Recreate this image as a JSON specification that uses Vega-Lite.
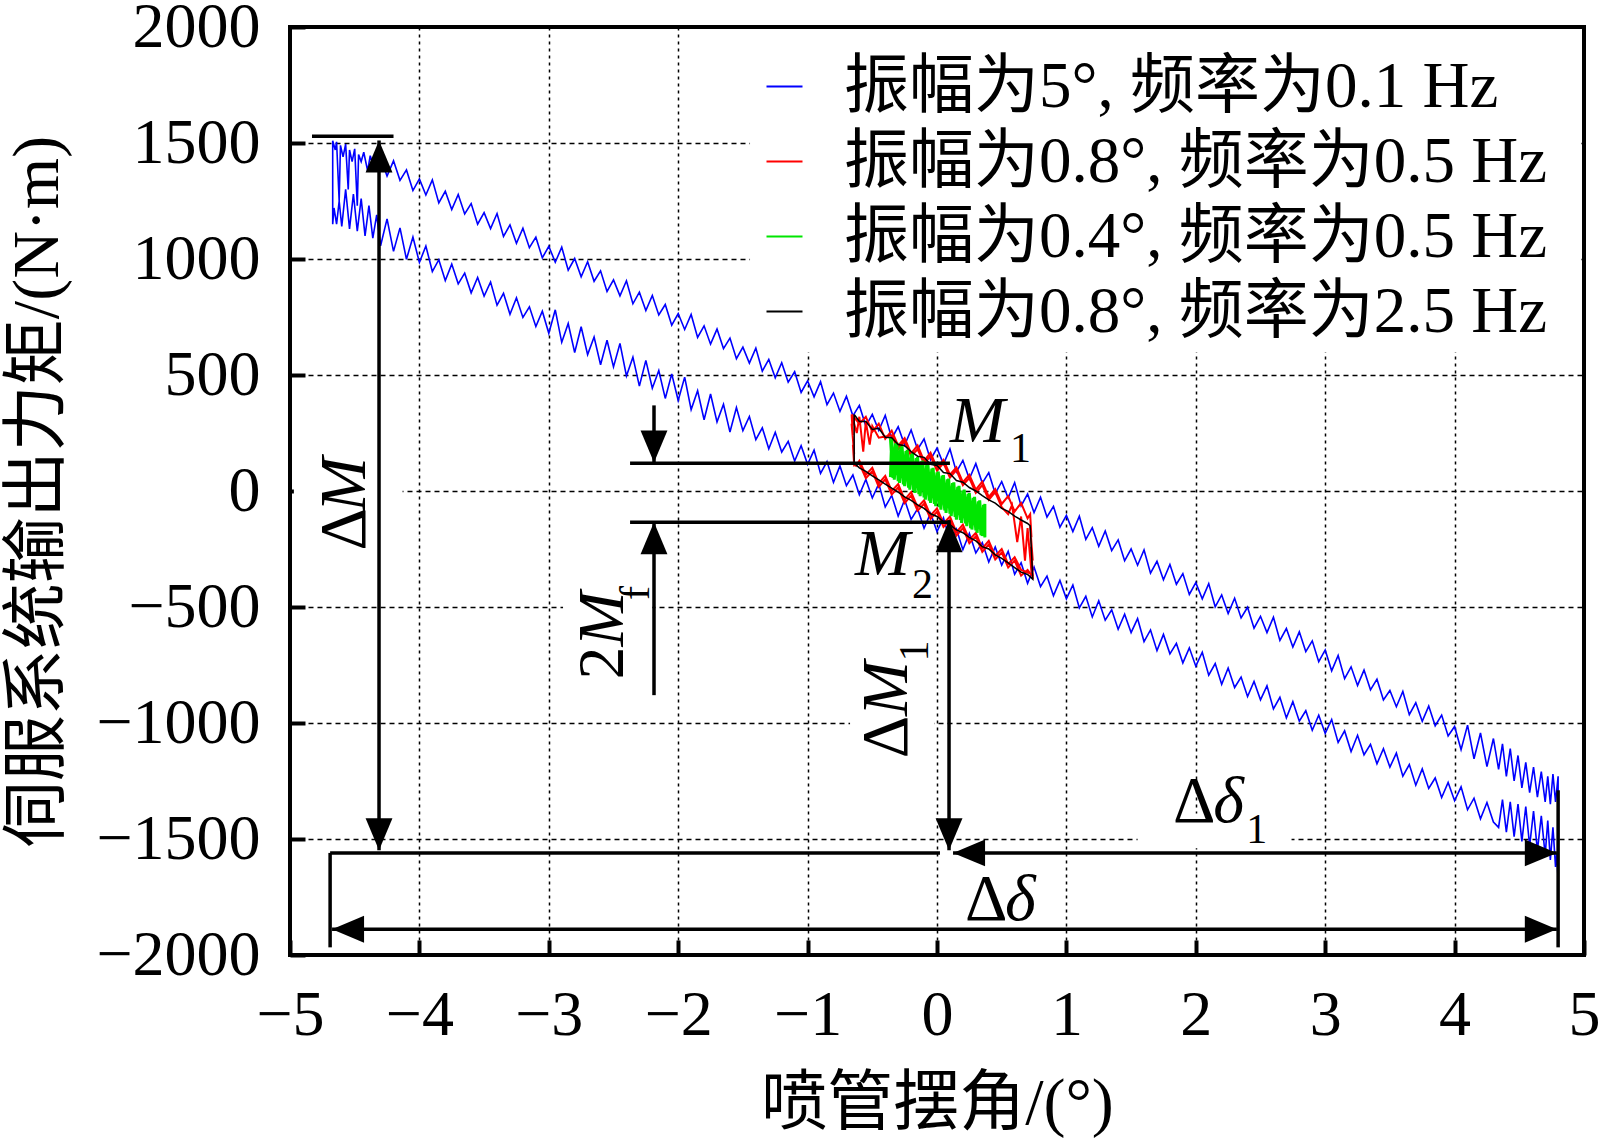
{
  "$schema": "https://vega.github.io/schema/vega-lite/v6.json",
  "width": 1294,
  "height": 928,
  "autosize": {"type": "none"},
  "padding": {"left": 290, "top": 27, "right": 16, "bottom": 184},
  "background": "white",
  "config": {
    "view": {"stroke": "black", "strokeWidth": 4},
    "font": "Liberation Serif",
    "axis": {
      "labelFont": "Liberation Serif", "labelFontSize": 64, "labelColor": "black", "labelLimit": 400,
      "titleFont": "Liberation Serif, Noto Sans CJK SC", "titleFontSize": 66, "titleFontWeight": "normal", "titleColor": "black",
      "grid": true, "gridColor": "black", "gridOpacity": 1, "gridWidth": 1.5,
      "domain": false, "ticks": true, "tickColor": "black", "tickWidth": 4, "tickSize": -15,
      "labelFlush": false, "labelOverlap": false, "labelBound": false
    }
  },
  "datasets": {
    "blue": [
      {"s":"a","x":-4.67,"y":1150},{"s":"a","x":-4.67,"y":1510},{"s":"a","x":-4.65,"y":1470},{"s":"a","x":-4.64,"y":1505},{"s":"a","x":-4.62,"y":1250},{"s":"a","x":-4.61,"y":1490},{"s":"a","x":-4.59,"y":1440},{"s":"a","x":-4.57,"y":1495},{"s":"a","x":-4.55,"y":1300},{"s":"a","x":-4.54,"y":1470},{"s":"a","x":-4.52,"y":1420},{"s":"a","x":-4.5,"y":1475},{"s":"a","x":-4.48,"y":1230},{"s":"a","x":-4.47,"y":1450},{"s":"a","x":-4.45,"y":1420},{"s":"a","x":-4.43,"y":1460},{"s":"a","x":-4.4,"y":1380},{"s":"a","x":-4.38,"y":1445},{"s":"a","x":-4.35,"y":1395},
      {"s":"a","x":-4.3,"y":1437},{"s":"a","x":-4.25,"y":1358},{"s":"a","x":-4.2,"y":1423},{"s":"a","x":-4.15,"y":1339},{"s":"a","x":-4.1,"y":1384},{"s":"a","x":-4.05,"y":1295},{"s":"a","x":-4.0,"y":1345},{"s":"a","x":-3.95,"y":1276},{"s":"a","x":-3.9,"y":1341},{"s":"a","x":-3.85,"y":1242},
      {"s":"a","x":-3.8,"y":1292},{"s":"a","x":-3.75,"y":1213},{"s":"a","x":-3.7,"y":1278},{"s":"a","x":-3.65,"y":1194},{"s":"a","x":-3.6,"y":1239},{"s":"a","x":-3.55,"y":1150},{"s":"a","x":-3.5,"y":1200},{"s":"a","x":-3.45,"y":1131},{"s":"a","x":-3.4,"y":1196},{"s":"a","x":-3.35,"y":1097},
      {"s":"a","x":-3.3,"y":1147},{"s":"a","x":-3.25,"y":1068},{"s":"a","x":-3.2,"y":1133},{"s":"a","x":-3.15,"y":1049},{"s":"a","x":-3.1,"y":1094},{"s":"a","x":-3.05,"y":1005},{"s":"a","x":-3.0,"y":1055},{"s":"a","x":-2.95,"y":986},{"s":"a","x":-2.9,"y":1051},{"s":"a","x":-2.85,"y":952},
      {"s":"a","x":-2.8,"y":1002},{"s":"a","x":-2.75,"y":923},{"s":"a","x":-2.7,"y":988},{"s":"a","x":-2.65,"y":904},{"s":"a","x":-2.6,"y":949},{"s":"a","x":-2.55,"y":860},{"s":"a","x":-2.5,"y":910},{"s":"a","x":-2.45,"y":841},{"s":"a","x":-2.4,"y":906},{"s":"a","x":-2.35,"y":807},
      {"s":"a","x":-2.3,"y":857},{"s":"a","x":-2.25,"y":778},{"s":"a","x":-2.2,"y":843},{"s":"a","x":-2.15,"y":759},{"s":"a","x":-2.1,"y":804},{"s":"a","x":-2.05,"y":715},{"s":"a","x":-2.0,"y":765},{"s":"a","x":-1.95,"y":696},{"s":"a","x":-1.9,"y":761},{"s":"a","x":-1.85,"y":662},
      {"s":"a","x":-1.8,"y":712},{"s":"a","x":-1.75,"y":633},{"s":"a","x":-1.7,"y":698},{"s":"a","x":-1.65,"y":614},{"s":"a","x":-1.6,"y":659},{"s":"a","x":-1.55,"y":570},{"s":"a","x":-1.5,"y":620},{"s":"a","x":-1.45,"y":551},{"s":"a","x":-1.4,"y":616},{"s":"a","x":-1.35,"y":517},
      {"s":"a","x":-1.3,"y":567},{"s":"a","x":-1.25,"y":488},{"s":"a","x":-1.2,"y":553},{"s":"a","x":-1.15,"y":469},{"s":"a","x":-1.1,"y":514},{"s":"a","x":-1.05,"y":425},{"s":"a","x":-1.0,"y":475},{"s":"a","x":-0.95,"y":406},{"s":"a","x":-0.9,"y":471},{"s":"a","x":-0.85,"y":372},
      {"s":"a","x":-0.8,"y":422},{"s":"a","x":-0.75,"y":343},{"s":"a","x":-0.7,"y":408},{"s":"a","x":-0.65,"y":324},{"s":"a","x":-0.6,"y":369},{"s":"a","x":-0.55,"y":280},{"s":"a","x":-0.5,"y":330},{"s":"a","x":-0.45,"y":261},{"s":"a","x":-0.4,"y":326},{"s":"a","x":-0.35,"y":227},
      {"s":"a","x":-0.3,"y":277},{"s":"a","x":-0.25,"y":198},{"s":"a","x":-0.2,"y":263},{"s":"a","x":-0.15,"y":179},{"s":"a","x":-0.1,"y":224},{"s":"a","x":-0.05,"y":135},{"s":"a","x":0.0,"y":185},{"s":"a","x":0.05,"y":116},{"s":"a","x":0.1,"y":181},{"s":"a","x":0.15,"y":82},
      {"s":"a","x":0.2,"y":132},{"s":"a","x":0.25,"y":53},{"s":"a","x":0.3,"y":118},{"s":"a","x":0.35,"y":34},{"s":"a","x":0.4,"y":79},{"s":"a","x":0.45,"y":-11},{"s":"a","x":0.5,"y":40},{"s":"a","x":0.55,"y":-30},{"s":"a","x":0.6,"y":36},{"s":"a","x":0.65,"y":-64},
      {"s":"a","x":0.7,"y":-13},{"s":"a","x":0.75,"y":-93},{"s":"a","x":0.8,"y":-27},{"s":"a","x":0.85,"y":-112},{"s":"a","x":0.9,"y":-66},{"s":"a","x":0.95,"y":-156},{"s":"a","x":1.0,"y":-105},{"s":"a","x":1.05,"y":-175},{"s":"a","x":1.1,"y":-109},{"s":"a","x":1.15,"y":-209},
      {"s":"a","x":1.2,"y":-158},{"s":"a","x":1.25,"y":-238},{"s":"a","x":1.3,"y":-172},{"s":"a","x":1.35,"y":-257},{"s":"a","x":1.4,"y":-211},{"s":"a","x":1.45,"y":-301},{"s":"a","x":1.5,"y":-250},{"s":"a","x":1.55,"y":-320},{"s":"a","x":1.6,"y":-254},{"s":"a","x":1.65,"y":-354},
      {"s":"a","x":1.7,"y":-303},{"s":"a","x":1.75,"y":-383},{"s":"a","x":1.8,"y":-317},{"s":"a","x":1.85,"y":-402},{"s":"a","x":1.9,"y":-356},{"s":"a","x":1.95,"y":-446},{"s":"a","x":2.0,"y":-395},{"s":"a","x":2.05,"y":-465},{"s":"a","x":2.1,"y":-399},{"s":"a","x":2.15,"y":-499},
      {"s":"a","x":2.2,"y":-448},{"s":"a","x":2.25,"y":-528},{"s":"a","x":2.3,"y":-462},{"s":"a","x":2.35,"y":-547},{"s":"a","x":2.4,"y":-501},{"s":"a","x":2.45,"y":-591},{"s":"a","x":2.5,"y":-540},{"s":"a","x":2.55,"y":-610},{"s":"a","x":2.6,"y":-544},{"s":"a","x":2.65,"y":-644},
      {"s":"a","x":2.7,"y":-593},{"s":"a","x":2.75,"y":-673},{"s":"a","x":2.8,"y":-607},{"s":"a","x":2.85,"y":-692},{"s":"a","x":2.9,"y":-646},{"s":"a","x":2.95,"y":-736},{"s":"a","x":3.0,"y":-685},{"s":"a","x":3.05,"y":-775},{"s":"a","x":3.1,"y":-709},{"s":"a","x":3.15,"y":-809},
      {"s":"a","x":3.2,"y":-758},{"s":"a","x":3.25,"y":-838},{"s":"a","x":3.3,"y":-772},{"s":"a","x":3.35,"y":-857},{"s":"a","x":3.4,"y":-811},{"s":"a","x":3.45,"y":-901},{"s":"a","x":3.5,"y":-860},{"s":"a","x":3.55,"y":-930},{"s":"a","x":3.6,"y":-864},{"s":"a","x":3.65,"y":-964},
      {"s":"a","x":3.7,"y":-913},{"s":"a","x":3.75,"y":-993},{"s":"a","x":3.8,"y":-927},{"s":"a","x":3.85,"y":-1012},{"s":"a","x":3.9,"y":-966},{"s":"a","x":3.95,"y":-1056},{"s":"a","x":4.0,"y":-1015},{"s":"a","x":4.05,"y":-1115},{"s":"a","x":4.1,"y":-1009},{"s":"a","x":4.15,"y":-1154},
      {"s":"a","x":4.2,"y":-1043},{"s":"a","x":4.25,"y":-1188},{"s":"a","x":4.3,"y":-1067},
      {"s":"a","x":4.34,"y":-1200},{"s":"a","x":4.37,"y":-1090},{"s":"a","x":4.4,"y":-1230},{"s":"a","x":4.43,"y":-1110},{"s":"a","x":4.46,"y":-1250},{"s":"a","x":4.49,"y":-1140},{"s":"a","x":4.52,"y":-1280},{"s":"a","x":4.55,"y":-1170},{"s":"a","x":4.58,"y":-1300},{"s":"a","x":4.61,"y":-1190},{"s":"a","x":4.64,"y":-1320},{"s":"a","x":4.67,"y":-1210},{"s":"a","x":4.7,"y":-1340},{"s":"a","x":4.72,"y":-1230},{"s":"a","x":4.74,"y":-1350},{"s":"a","x":4.76,"y":-1220},{"s":"a","x":4.78,"y":-1340},{"s":"a","x":4.8,"y":-1230},{"s":"a","x":4.8,"y":-1680},
      {"s":"a","x":4.79,"y":-1560},{"s":"a","x":4.78,"y":-1620},{"s":"a","x":4.76,"y":-1450},{"s":"a","x":4.74,"y":-1590},{"s":"a","x":4.72,"y":-1420},{"s":"a","x":4.7,"y":-1570},{"s":"a","x":4.67,"y":-1400},{"s":"a","x":4.64,"y":-1550},{"s":"a","x":4.61,"y":-1380},{"s":"a","x":4.58,"y":-1530},{"s":"a","x":4.55,"y":-1360},{"s":"a","x":4.52,"y":-1510},{"s":"a","x":4.49,"y":-1350},{"s":"a","x":4.46,"y":-1490},{"s":"a","x":4.43,"y":-1340},{"s":"a","x":4.4,"y":-1470},{"s":"a","x":4.37,"y":-1330},{"s":"a","x":4.34,"y":-1450},
      {"s":"a","x":4.3,"y":-1427},{"s":"a","x":4.25,"y":-1343},{"s":"a","x":4.2,"y":-1413},{"s":"a","x":4.15,"y":-1324},{"s":"a","x":4.1,"y":-1374},{"s":"a","x":4.05,"y":-1275},{"s":"a","x":4.0,"y":-1335},{"s":"a","x":3.95,"y":-1256},{"s":"a","x":3.9,"y":-1321},{"s":"a","x":3.85,"y":-1237},
      {"s":"a","x":3.8,"y":-1282},{"s":"a","x":3.75,"y":-1198},{"s":"a","x":3.7,"y":-1268},{"s":"a","x":3.65,"y":-1179},{"s":"a","x":3.6,"y":-1229},{"s":"a","x":3.55,"y":-1130},{"s":"a","x":3.5,"y":-1190},{"s":"a","x":3.45,"y":-1111},{"s":"a","x":3.4,"y":-1176},{"s":"a","x":3.35,"y":-1092},
      {"s":"a","x":3.3,"y":-1137},{"s":"a","x":3.25,"y":-1053},{"s":"a","x":3.2,"y":-1123},{"s":"a","x":3.15,"y":-1034},{"s":"a","x":3.1,"y":-1084},{"s":"a","x":3.05,"y":-985},{"s":"a","x":3.0,"y":-1045},{"s":"a","x":2.95,"y":-966},{"s":"a","x":2.9,"y":-1031},{"s":"a","x":2.85,"y":-947},
      {"s":"a","x":2.8,"y":-992},{"s":"a","x":2.75,"y":-908},{"s":"a","x":2.7,"y":-978},{"s":"a","x":2.65,"y":-889},{"s":"a","x":2.6,"y":-939},{"s":"a","x":2.55,"y":-840},{"s":"a","x":2.5,"y":-900},{"s":"a","x":2.45,"y":-821},{"s":"a","x":2.4,"y":-886},{"s":"a","x":2.35,"y":-802},
      {"s":"a","x":2.3,"y":-847},{"s":"a","x":2.25,"y":-763},{"s":"a","x":2.2,"y":-833},{"s":"a","x":2.15,"y":-744},{"s":"a","x":2.1,"y":-794},{"s":"a","x":2.05,"y":-695},{"s":"a","x":2.0,"y":-755},{"s":"a","x":1.95,"y":-676},{"s":"a","x":1.9,"y":-741},{"s":"a","x":1.85,"y":-657},
      {"s":"a","x":1.8,"y":-702},{"s":"a","x":1.75,"y":-618},{"s":"a","x":1.7,"y":-688},{"s":"a","x":1.65,"y":-599},{"s":"a","x":1.6,"y":-649},{"s":"a","x":1.55,"y":-550},{"s":"a","x":1.5,"y":-610},{"s":"a","x":1.45,"y":-531},{"s":"a","x":1.4,"y":-596},{"s":"a","x":1.35,"y":-512},
      {"s":"a","x":1.3,"y":-557},{"s":"a","x":1.25,"y":-473},{"s":"a","x":1.2,"y":-543},{"s":"a","x":1.15,"y":-454},{"s":"a","x":1.1,"y":-504},{"s":"a","x":1.05,"y":-405},{"s":"a","x":1.0,"y":-465},{"s":"a","x":0.95,"y":-386},{"s":"a","x":0.9,"y":-451},{"s":"a","x":0.85,"y":-367},
      {"s":"a","x":0.8,"y":-412},{"s":"a","x":0.75,"y":-328},{"s":"a","x":0.7,"y":-398},{"s":"a","x":0.65,"y":-309},{"s":"a","x":0.6,"y":-359},{"s":"a","x":0.55,"y":-260},{"s":"a","x":0.5,"y":-320},{"s":"a","x":0.45,"y":-241},{"s":"a","x":0.4,"y":-306},{"s":"a","x":0.35,"y":-222},
      {"s":"a","x":0.3,"y":-267},{"s":"a","x":0.25,"y":-183},{"s":"a","x":0.2,"y":-253},{"s":"a","x":0.15,"y":-164},{"s":"a","x":0.1,"y":-214},{"s":"a","x":0.05,"y":-115},{"s":"a","x":0.0,"y":-175},{"s":"a","x":-0.05,"y":-96},{"s":"a","x":-0.1,"y":-161},{"s":"a","x":-0.15,"y":-77},
      {"s":"a","x":-0.2,"y":-122},{"s":"a","x":-0.25,"y":-38},{"s":"a","x":-0.3,"y":-108},{"s":"a","x":-0.35,"y":-19},{"s":"a","x":-0.4,"y":-69},{"s":"a","x":-0.45,"y":31},{"s":"a","x":-0.5,"y":-30},{"s":"a","x":-0.55,"y":50},{"s":"a","x":-0.6,"y":-16},{"s":"a","x":-0.65,"y":69},
      {"s":"a","x":-0.7,"y":23},{"s":"a","x":-0.75,"y":108},{"s":"a","x":-0.8,"y":37},{"s":"a","x":-0.85,"y":127},{"s":"a","x":-0.9,"y":76},{"s":"a","x":-0.95,"y":176},{"s":"a","x":-1.0,"y":115},{"s":"a","x":-1.05,"y":195},{"s":"a","x":-1.1,"y":129},{"s":"a","x":-1.15,"y":214},
      {"s":"a","x":-1.2,"y":168},{"s":"a","x":-1.25,"y":253},{"s":"a","x":-1.3,"y":182},{"s":"a","x":-1.35,"y":272},{"s":"a","x":-1.4,"y":221},{"s":"a","x":-1.45,"y":321},{"s":"a","x":-1.5,"y":260},{"s":"a","x":-1.55,"y":360},{"s":"a","x":-1.6,"y":254},{"s":"a","x":-1.65,"y":374},
      {"s":"a","x":-1.7,"y":298},{"s":"a","x":-1.75,"y":418},{"s":"a","x":-1.8,"y":307},{"s":"a","x":-1.85,"y":432},{"s":"a","x":-1.9,"y":351},{"s":"a","x":-1.95,"y":491},{"s":"a","x":-2.0,"y":390},{"s":"a","x":-2.05,"y":505},{"s":"a","x":-2.1,"y":399},{"s":"a","x":-2.15,"y":519},
      {"s":"a","x":-2.2,"y":443},{"s":"a","x":-2.25,"y":563},{"s":"a","x":-2.3,"y":452},{"s":"a","x":-2.35,"y":577},{"s":"a","x":-2.4,"y":496},{"s":"a","x":-2.45,"y":636},{"s":"a","x":-2.5,"y":535},{"s":"a","x":-2.55,"y":650},{"s":"a","x":-2.6,"y":544},{"s":"a","x":-2.65,"y":664},
      {"s":"a","x":-2.7,"y":588},{"s":"a","x":-2.75,"y":708},{"s":"a","x":-2.8,"y":597},{"s":"a","x":-2.85,"y":722},{"s":"a","x":-2.9,"y":641},{"s":"a","x":-2.95,"y":781},{"s":"a","x":-3.0,"y":680},{"s":"a","x":-3.05,"y":775},{"s":"a","x":-3.1,"y":709},{"s":"a","x":-3.15,"y":794},
      {"s":"a","x":-3.2,"y":748},{"s":"a","x":-3.25,"y":833},{"s":"a","x":-3.3,"y":762},{"s":"a","x":-3.35,"y":852},{"s":"a","x":-3.4,"y":801},{"s":"a","x":-3.45,"y":901},{"s":"a","x":-3.5,"y":840},{"s":"a","x":-3.55,"y":920},{"s":"a","x":-3.6,"y":854},{"s":"a","x":-3.65,"y":939},
      {"s":"a","x":-3.7,"y":893},{"s":"a","x":-3.75,"y":978},{"s":"a","x":-3.8,"y":907},{"s":"a","x":-3.85,"y":997},{"s":"a","x":-3.9,"y":946},{"s":"a","x":-3.95,"y":1056},{"s":"a","x":-4.0,"y":985},{"s":"a","x":-4.05,"y":1095},{"s":"a","x":-4.1,"y":999},{"s":"a","x":-4.15,"y":1134},
      {"s":"a","x":-4.2,"y":1033},{"s":"a","x":-4.25,"y":1173},{"s":"a","x":-4.3,"y":1057},
      {"s":"a","x":-4.33,"y":1190},{"s":"a","x":-4.36,"y":1090},{"s":"a","x":-4.39,"y":1230},{"s":"a","x":-4.42,"y":1100},{"s":"a","x":-4.45,"y":1260},{"s":"a","x":-4.48,"y":1120},{"s":"a","x":-4.51,"y":1280},{"s":"a","x":-4.54,"y":1130},{"s":"a","x":-4.57,"y":1300},{"s":"a","x":-4.6,"y":1140},{"s":"a","x":-4.62,"y":1250},{"s":"a","x":-4.64,"y":1150},{"s":"a","x":-4.66,"y":1220},{"s":"a","x":-4.67,"y":1150}
    ],
    "red": [
      {"s":"b","x":-0.66,"y":330},{"s":"b","x":-0.6,"y":290},{"s":"b","x":-0.55,"y":320},{"s":"b","x":-0.5,"y":255},{"s":"b","x":-0.45,"y":290},{"s":"b","x":-0.4,"y":225},{"s":"b","x":-0.35,"y":260},{"s":"b","x":-0.3,"y":195},{"s":"b","x":-0.25,"y":228},{"s":"b","x":-0.2,"y":162},{"s":"b","x":-0.15,"y":196},{"s":"b","x":-0.1,"y":130},{"s":"b","x":-0.05,"y":165},{"s":"b","x":0.0,"y":100},{"s":"b","x":0.05,"y":134},{"s":"b","x":0.1,"y":70},{"s":"b","x":0.15,"y":102},{"s":"b","x":0.2,"y":38},{"s":"b","x":0.25,"y":70},{"s":"b","x":0.3,"y":6},{"s":"b","x":0.35,"y":40},{"s":"b","x":0.4,"y":-25},{"s":"b","x":0.45,"y":8},{"s":"b","x":0.5,"y":-56},{"s":"b","x":0.55,"y":-22},{"s":"b","x":0.6,"y":-88},{"s":"b","x":0.65,"y":-52},{"s":"b","x":0.7,"y":-118},{"s":"b","x":0.72,"y":-100},
      {"s":"b","x":0.73,"y":-200},{"s":"b","x":0.72,"y":-150},{"s":"b","x":0.74,"y":-300},{"s":"b","x":0.73,"y":-250},{"s":"b","x":0.74,"y":-370},
      {"s":"b","x":0.7,"y":-340},{"s":"b","x":0.65,"y":-365},{"s":"b","x":0.6,"y":-300},{"s":"b","x":0.55,"y":-330},{"s":"b","x":0.5,"y":-265},{"s":"b","x":0.45,"y":-295},{"s":"b","x":0.4,"y":-230},{"s":"b","x":0.35,"y":-262},{"s":"b","x":0.3,"y":-195},{"s":"b","x":0.25,"y":-225},{"s":"b","x":0.2,"y":-160},{"s":"b","x":0.15,"y":-192},{"s":"b","x":0.1,"y":-125},{"s":"b","x":0.05,"y":-155},{"s":"b","x":0.0,"y":-90},{"s":"b","x":-0.05,"y":-120},{"s":"b","x":-0.1,"y":-55},{"s":"b","x":-0.15,"y":-85},{"s":"b","x":-0.2,"y":-20},{"s":"b","x":-0.25,"y":-52},{"s":"b","x":-0.3,"y":15},{"s":"b","x":-0.35,"y":-15},{"s":"b","x":-0.4,"y":50},{"s":"b","x":-0.45,"y":18},{"s":"b","x":-0.5,"y":85},{"s":"b","x":-0.55,"y":55},{"s":"b","x":-0.6,"y":118},{"s":"b","x":-0.64,"y":110},
      {"s":"b","x":-0.65,"y":200},{"s":"b","x":-0.64,"y":160},{"s":"b","x":-0.66,"y":290},{"s":"b","x":-0.65,"y":240},{"s":"b","x":-0.66,"y":330},
      {"s":"b","x":-0.62,"y":250},{"s":"b","x":-0.6,"y":320},{"s":"b","x":-0.57,"y":170},{"s":"b","x":-0.55,"y":300},{"s":"b","x":-0.52,"y":200},{"s":"b","x":-0.5,"y":280},{"s":"b","x":-0.45,"y":230},{"s":"b","x":-0.4,"y":235},{"s":"b","x":-0.35,"y":240},{"s":"b","x":-0.3,"y":180},{"s":"b","x":-0.25,"y":215},{"s":"b","x":-0.2,"y":150},{"s":"b","x":-0.15,"y":180},{"s":"b","x":-0.1,"y":118},{"s":"b","x":-0.05,"y":150},{"s":"b","x":0.0,"y":88},{"s":"b","x":0.05,"y":120},{"s":"b","x":0.1,"y":58},{"s":"b","x":0.15,"y":90},{"s":"b","x":0.2,"y":25},{"s":"b","x":0.25,"y":56},{"s":"b","x":0.3,"y":-8},{"s":"b","x":0.35,"y":25},{"s":"b","x":0.4,"y":-38},{"s":"b","x":0.45,"y":-5},{"s":"b","x":0.5,"y":-70},{"s":"b","x":0.55,"y":-100},{"s":"b","x":0.58,"y":-60},{"s":"b","x":0.62,"y":-220},{"s":"b","x":0.65,"y":-110},{"s":"b","x":0.68,"y":-300},{"s":"b","x":0.7,"y":-160},{"s":"b","x":0.73,"y":-350},{"s":"b","x":0.72,"y":-240},{"s":"b","x":0.74,"y":-360},
      {"s":"b","x":0.65,"y":-340},{"s":"b","x":0.6,"y":-285},{"s":"b","x":0.55,"y":-315},{"s":"b","x":0.5,"y":-250},{"s":"b","x":0.45,"y":-280},{"s":"b","x":0.4,"y":-215},{"s":"b","x":0.35,"y":-247},{"s":"b","x":0.3,"y":-180},{"s":"b","x":0.25,"y":-210},{"s":"b","x":0.2,"y":-145},{"s":"b","x":0.15,"y":-177},{"s":"b","x":0.1,"y":-110},{"s":"b","x":0.05,"y":-140},{"s":"b","x":0.0,"y":-75},{"s":"b","x":-0.05,"y":-105},{"s":"b","x":-0.1,"y":-40},{"s":"b","x":-0.15,"y":-70},{"s":"b","x":-0.2,"y":-5},{"s":"b","x":-0.25,"y":-37},{"s":"b","x":-0.3,"y":30},{"s":"b","x":-0.35,"y":0},{"s":"b","x":-0.4,"y":65},{"s":"b","x":-0.45,"y":33},{"s":"b","x":-0.5,"y":100},{"s":"b","x":-0.55,"y":70},{"s":"b","x":-0.6,"y":130},{"s":"b","x":-0.63,"y":105}
    ],
    "green": [
      {"s":"c","x":-0.36,"y":60},{"s":"c","x":-0.35,"y":224},{"s":"c","x":-0.33,"y":49},{"s":"c","x":-0.31,"y":209},{"s":"c","x":-0.29,"y":35},{"s":"c","x":-0.27,"y":193},{"s":"c","x":-0.25,"y":21},{"s":"c","x":-0.23,"y":177},{"s":"c","x":-0.21,"y":6},{"s":"c","x":-0.19,"y":162},{"s":"c","x":-0.17,"y":-8},{"s":"c","x":-0.15,"y":146},{"s":"c","x":-0.13,"y":-22},{"s":"c","x":-0.11,"y":131},{"s":"c","x":-0.09,"y":-37},{"s":"c","x":-0.07,"y":115},{"s":"c","x":-0.05,"y":-51},{"s":"c","x":-0.03,"y":100},{"s":"c","x":-0.01,"y":-65},{"s":"c","x":0.01,"y":84},{"s":"c","x":0.03,"y":-80},{"s":"c","x":0.05,"y":69},{"s":"c","x":0.07,"y":-94},{"s":"c","x":0.09,"y":53},{"s":"c","x":0.11,"y":-108},{"s":"c","x":0.13,"y":37},{"s":"c","x":0.15,"y":-123},{"s":"c","x":0.17,"y":22},{"s":"c","x":0.19,"y":-137},{"s":"c","x":0.21,"y":6},{"s":"c","x":0.23,"y":-151},{"s":"c","x":0.25,"y":-9},{"s":"c","x":0.27,"y":-166},{"s":"c","x":0.29,"y":-25},{"s":"c","x":0.31,"y":-180},{"s":"c","x":0.33,"y":-40},{"s":"c","x":0.35,"y":-194},{"s":"c","x":0.37,"y":-56},{"s":"c","x":0.37,"y":-200},
      {"s":"c","x":0.36,"y":-60},{"s":"c","x":0.34,"y":-190},{"s":"c","x":0.32,"y":-45},{"s":"c","x":0.3,"y":-170},{"s":"c","x":0.28,"y":-30},{"s":"c","x":0.26,"y":-160},{"s":"c","x":0.24,"y":-12},{"s":"c","x":0.22,"y":-140},{"s":"c","x":0.2,"y":2},{"s":"c","x":0.18,"y":-125},{"s":"c","x":0.16,"y":18},{"s":"c","x":0.14,"y":-112},{"s":"c","x":0.12,"y":34},{"s":"c","x":0.1,"y":-98},{"s":"c","x":0.08,"y":50},{"s":"c","x":0.06,"y":-84},{"s":"c","x":0.04,"y":66},{"s":"c","x":0.02,"y":-70},{"s":"c","x":0.0,"y":80},{"s":"c","x":-0.02,"y":-56},{"s":"c","x":-0.04,"y":96},{"s":"c","x":-0.06,"y":-42},{"s":"c","x":-0.08,"y":112},{"s":"c","x":-0.1,"y":-28},{"s":"c","x":-0.12,"y":128},{"s":"c","x":-0.14,"y":-14},{"s":"c","x":-0.16,"y":142},{"s":"c","x":-0.18,"y":0},{"s":"c","x":-0.2,"y":158},{"s":"c","x":-0.22,"y":14},{"s":"c","x":-0.24,"y":172},{"s":"c","x":-0.26,"y":28},{"s":"c","x":-0.28,"y":190},{"s":"c","x":-0.3,"y":42},{"s":"c","x":-0.32,"y":205},{"s":"c","x":-0.34,"y":56},{"s":"c","x":-0.36,"y":228}
    ],
    "black": [
      {"s":"d","x":-0.64,"y":330},{"s":"d","x":-0.6,"y":300},{"s":"d","x":-0.55,"y":300},{"s":"d","x":-0.5,"y":265},{"s":"d","x":-0.45,"y":270},{"s":"d","x":-0.4,"y":232},{"s":"d","x":-0.35,"y":230},{"s":"d","x":-0.3,"y":200},{"s":"d","x":-0.25,"y":195},{"s":"d","x":-0.2,"y":170},{"s":"d","x":-0.15,"y":150},{"s":"d","x":-0.1,"y":145},{"s":"d","x":-0.05,"y":115},{"s":"d","x":0.0,"y":110},{"s":"d","x":0.05,"y":80},{"s":"d","x":0.1,"y":75},{"s":"d","x":0.15,"y":45},{"s":"d","x":0.2,"y":38},{"s":"d","x":0.25,"y":15},{"s":"d","x":0.3,"y":0},{"s":"d","x":0.35,"y":-20},{"s":"d","x":0.4,"y":-38},{"s":"d","x":0.45,"y":-52},{"s":"d","x":0.5,"y":-75},{"s":"d","x":0.55,"y":-88},{"s":"d","x":0.6,"y":-108},{"s":"d","x":0.65,"y":-125},{"s":"d","x":0.7,"y":-140},{"s":"d","x":0.72,"y":-150},
      {"s":"d","x":0.73,"y":-260},{"s":"d","x":0.74,"y":-380},
      {"s":"d","x":0.7,"y":-360},{"s":"d","x":0.65,"y":-350},{"s":"d","x":0.6,"y":-330},{"s":"d","x":0.55,"y":-310},{"s":"d","x":0.5,"y":-290},{"s":"d","x":0.45,"y":-275},{"s":"d","x":0.4,"y":-250},{"s":"d","x":0.35,"y":-240},{"s":"d","x":0.3,"y":-215},{"s":"d","x":0.25,"y":-200},{"s":"d","x":0.2,"y":-180},{"s":"d","x":0.15,"y":-168},{"s":"d","x":0.1,"y":-145},{"s":"d","x":0.05,"y":-132},{"s":"d","x":0.0,"y":-110},{"s":"d","x":-0.05,"y":-98},{"s":"d","x":-0.1,"y":-75},{"s":"d","x":-0.15,"y":-60},{"s":"d","x":-0.2,"y":-40},{"s":"d","x":-0.25,"y":-25},{"s":"d","x":-0.3,"y":-5},{"s":"d","x":-0.35,"y":12},{"s":"d","x":-0.4,"y":30},{"s":"d","x":-0.45,"y":48},{"s":"d","x":-0.5,"y":65},{"s":"d","x":-0.55,"y":85},{"s":"d","x":-0.6,"y":100},{"s":"d","x":-0.64,"y":120},{"s":"d","x":-0.64,"y":330}
    ],
    "masks": [
      {"x":-4.97,"x2":-4.13,"y":-260,"y2":190},
      {"x":-2.89,"x2":-2.2,"y":-830,"y2":-470},
      {"x":-0.672,"x2":-0.02,"y":-1160,"y2":-720},
      {"x":1.55,"x2":2.74,"y":-1540,"y2":-1390},
      {"x":-1.445,"x2":4.98,"y":598,"y2":1991}
    ],
    "rules": [
      {"x":-4.83,"y":1529,"x2":-4.2,"y2":1529},
      {"x":-4.312,"y":1511,"x2":-4.312,"y2":-1549},
      {"x":-2.187,"y":369,"x2":-2.187,"y2":123},
      {"x":-2.187,"y":-135,"x2":-2.187,"y2":-880},
      {"x":-2.372,"y":120,"x2":0.1,"y2":120},
      {"x":-2.372,"y":-135,"x2":0.1,"y2":-135},
      {"x":0.093,"y":-126,"x2":0.093,"y2":-1549},
      {"x":-4.69,"y":-1560,"x2":0.023,"y2":-1560},
      {"x":0.124,"y":-1560,"x2":4.79,"y2":-1560},
      {"x":-4.69,"y":-1560,"x2":-4.69,"y2":-1967},
      {"x":-4.675,"y":-1889,"x2":4.79,"y2":-1889},
      {"x":4.8,"y":-1290,"x2":4.8,"y2":-1967}
    ],
    "heads": [
      {"x":-4.312,"y":1511,"d":"u"},
      {"x":-4.312,"y":-1549,"d":"d"},
      {"x":-2.187,"y":123,"d":"d"},
      {"x":-2.187,"y":-135,"d":"u"},
      {"x":0.093,"y":-126,"d":"u"},
      {"x":0.093,"y":-1549,"d":"d"},
      {"x":0.124,"y":-1560,"d":"l"},
      {"x":4.79,"y":-1560,"d":"r"},
      {"x":-4.675,"y":-1889,"d":"l"},
      {"x":4.79,"y":-1889,"d":"r"}
    ],
    "tn": [{"t":"Δ","x":1.824,"y":-1428},{"t":"Δ","x":0.216,"y":-1850}],
    "ti": [{"t":"M","x":0.1,"y":210},{"t":"M","x":-0.634,"y":-363},{"t":"δ","x":2.134,"y":-1428},{"t":"δ","x":0.526,"y":-1850}],
    "ts": [{"t":"1","x":0.564,"y":124},{"t":"2","x":-0.193,"y":-462},{"t":"1","x":2.39,"y":-1519}],
    "rn": [{"t":"Δ","x":-4.42,"y":-256},{"t":"Δ","x":-0.232,"y":-1152},{"t":"2","x":-2.427,"y":-812}],
    "ri": [{"t":"M","x":-4.42,"y":-90},{"t":"M","x":-0.232,"y":-970},{"t":"M","x":-2.427,"y":-670}],
    "rs": [{"t":"1","x":-0.07,"y":-735},{"t":"f","x":-2.226,"y":-470}]
  },
  "encoding": {
    "x": {
      "field": "x", "type": "quantitative",
      "scale": {"domain": [-5, 5], "nice": false, "zero": false},
      "axis": {
        "values": [-5, -4, -3, -2, -1, 0, 1, 2, 3, 4, 5], "format": "d",
        "gridDash": [3, 4], "labelPadding": 43,
        "title": "喷管摆角/(°)", "titleY": 148, "titleBaseline": "middle"
      }
    },
    "y": {
      "field": "y", "type": "quantitative",
      "scale": {"domain": [-2000, 2000], "nice": false, "zero": false},
      "axis": {
        "values": [-2000, -1500, -1000, -500, 0, 500, 1000, 1500, 2000], "format": "d",
        "gridDash": [5, 4], "labelPadding": 45,
        "title": "伺服系统输出力矩/(N·m)", "titleX": -253, "titleY": 464,
        "titleAngle": 270, "titleBaseline": "middle", "titleAlign": "center"
      }
    }
  },
  "layer": [
    {
      "data": {"name": "masks"},
      "mark": {"type": "rect", "color": "white"},
      "encoding": {"x2": {"field": "x2"}, "y2": {"field": "y2"}}
    },
    {
      "data": {"name": "blue"},
      "mark": {"type": "line", "strokeWidth": 1.6},
      "encoding": {
        "order": {"value": null},
        "color": {
          "field": "s", "type": "nominal",
          "scale": {"domain": ["a", "b", "c", "d"], "range": ["#0000ff", "#ff0000", "#00e600", "#000000"]},
          "legend": {
            "orient": "none", "legendX": 462, "legendY": 27, "padding": 0,
            "title": null, "symbolType": "stroke", "symbolSize": 1296, "symbolStrokeWidth": 2,
            "labelFont": "Liberation Serif, Noto Sans CJK SC", "labelFontSize": 65, "labelColor": "black",
            "labelOffset": 27, "rowPadding": 9, "labelLimit": 1200, "labelBaseline": "middle",
            "labelExpr": "{'a': '振幅为5°, 频率为0.1 Hz', 'b': '振幅为0.8°, 频率为0.5 Hz', 'c': '振幅为0.4°, 频率为0.5 Hz', 'd': '振幅为0.8°, 频率为2.5 Hz'}[datum.value]"
          }
        }
      }
    },
    {
      "data": {"name": "red"},
      "mark": {"type": "line", "strokeWidth": 2},
      "encoding": {
        "order": {"value": null},
        "color": {"field": "s", "type": "nominal", "scale": {"domain": ["a", "b", "c", "d"], "range": ["#0000ff", "#ff0000", "#00e600", "#000000"]}}
      }
    },
    {
      "data": {"name": "green"},
      "mark": {"type": "line", "strokeWidth": 3},
      "encoding": {
        "order": {"value": null},
        "color": {"field": "s", "type": "nominal", "scale": {"domain": ["a", "b", "c", "d"], "range": ["#0000ff", "#ff0000", "#00e600", "#000000"]}}
      }
    },
    {
      "data": {"name": "black"},
      "mark": {"type": "line", "strokeWidth": 1.5},
      "encoding": {
        "order": {"value": null},
        "color": {"field": "s", "type": "nominal", "scale": {"domain": ["a", "b", "c", "d"], "range": ["#0000ff", "#ff0000", "#00e600", "#000000"]}}
      }
    },
    {
      "data": {"name": "rules"},
      "mark": {"type": "rule", "color": "black", "strokeWidth": 3.5},
      "encoding": {"x2": {"field": "x2"}, "y2": {"field": "y2"}}
    },
    {
      "data": {"name": "heads"},
      "mark": {"type": "point", "filled": true, "color": "black", "opacity": 1, "size": 4096, "strokeWidth": 0},
      "encoding": {
        "shape": {
          "field": "d", "type": "nominal", "legend": null,
          "scale": {
            "domain": ["u", "d", "l", "r"],
            "range": ["M0,0L0.42,1L-0.42,1Z", "M0,0L0.42,-1L-0.42,-1Z", "M0,0L1,0.42L1,-0.42Z", "M0,0L-1,0.42L-1,-0.42Z"]
          }
        }
      }
    },
    {
      "data": {"name": "tn"},
      "mark": {"type": "text", "font": "Liberation Serif", "fontSize": 66, "align": "left", "baseline": "alphabetic", "color": "black"},
      "encoding": {"text": {"field": "t"}}
    },
    {
      "data": {"name": "ti"},
      "mark": {"type": "text", "font": "Liberation Serif", "fontSize": 66, "fontStyle": "italic", "align": "left", "baseline": "alphabetic", "color": "black"},
      "encoding": {"text": {"field": "t"}}
    },
    {
      "data": {"name": "ts"},
      "mark": {"type": "text", "font": "Liberation Serif", "fontSize": 42, "align": "left", "baseline": "alphabetic", "color": "black"},
      "encoding": {"text": {"field": "t"}}
    },
    {
      "data": {"name": "rn"},
      "mark": {"type": "text", "font": "Liberation Serif", "fontSize": 66, "angle": 270, "align": "left", "baseline": "alphabetic", "color": "black"},
      "encoding": {"text": {"field": "t"}}
    },
    {
      "data": {"name": "ri"},
      "mark": {"type": "text", "font": "Liberation Serif", "fontSize": 66, "fontStyle": "italic", "angle": 270, "align": "left", "baseline": "alphabetic", "color": "black"},
      "encoding": {"text": {"field": "t"}}
    },
    {
      "data": {"name": "rs"},
      "mark": {"type": "text", "font": "Liberation Serif", "fontSize": 42, "angle": 270, "align": "left", "baseline": "alphabetic", "color": "black"},
      "encoding": {"text": {"field": "t"}}
    }
  ]
}
